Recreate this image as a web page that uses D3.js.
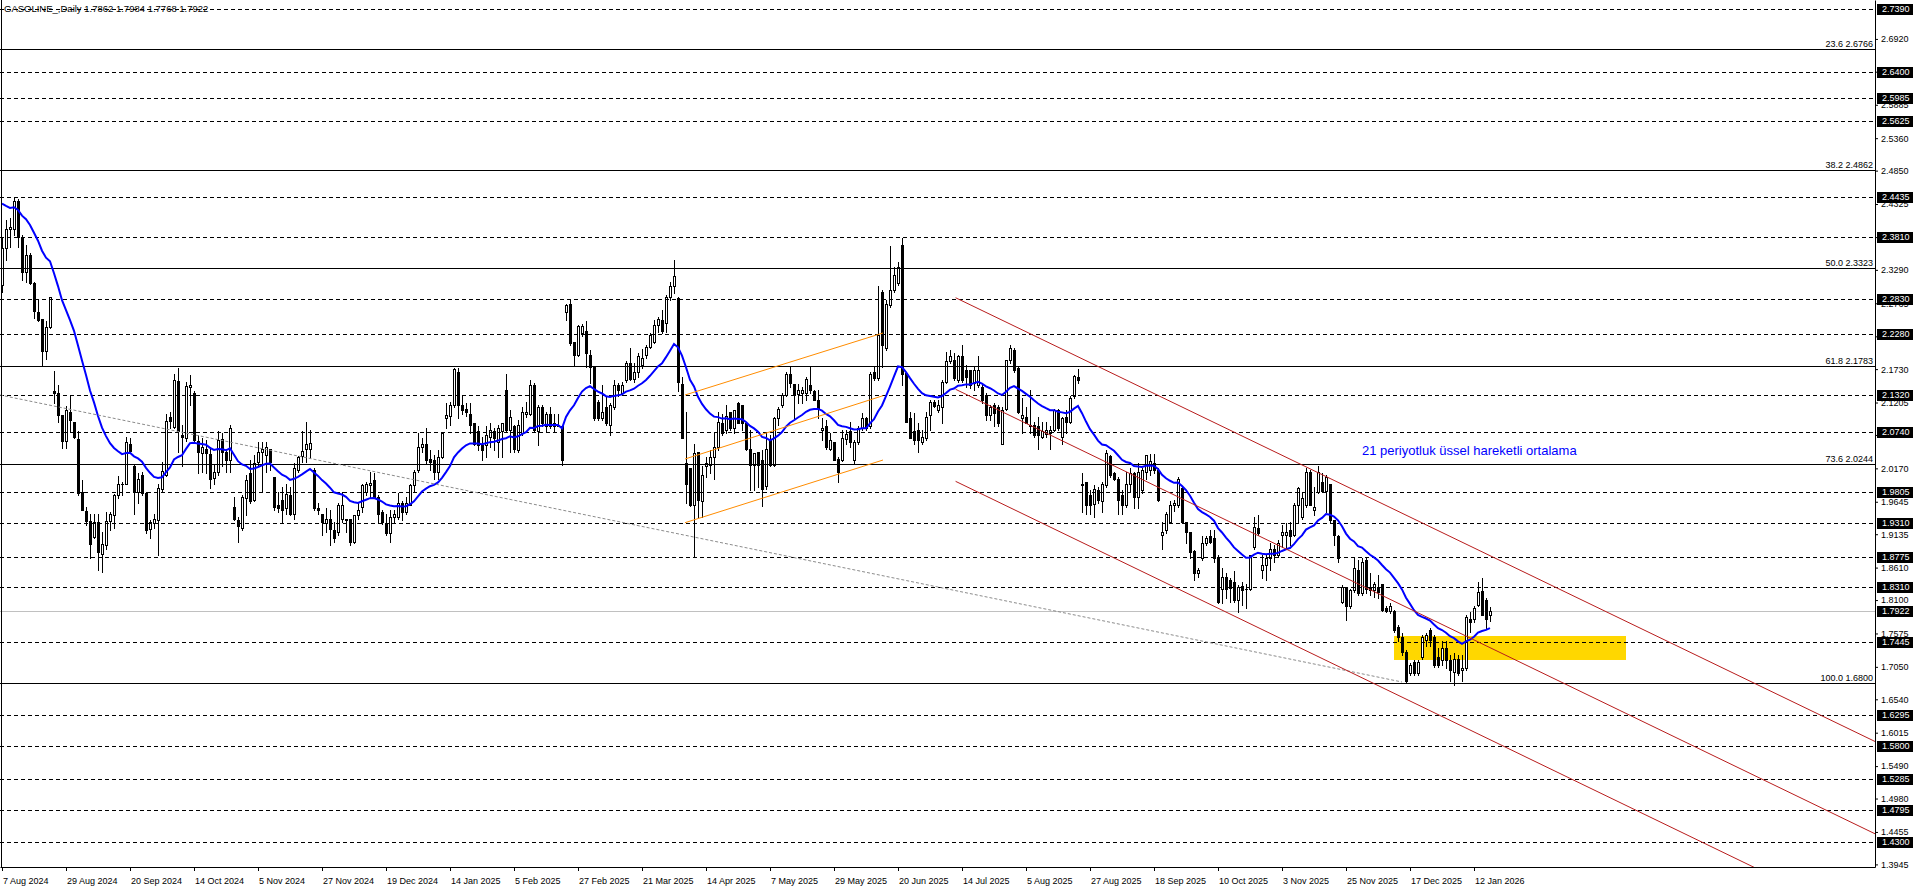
<!DOCTYPE html>
<html><head><meta charset="utf-8">
<script src="https://cdn.jsdelivr.net/npm/d3@7"></script>
<style>
html,body{margin:0;padding:0;background:#fff;overflow:hidden}
svg{display:block}
text{font-family:"Liberation Sans",Arial,sans-serif}
</style></head><body>
<svg id="c" width="1916" height="888"></svg>
<script>
const titleText = "GASOLINE_,Daily  1.7862 1.7984 1.7768 1.7922";

const open = [
2.305,2.363,2.393,2.394,2.437,2.381,2.325,2.352,2.309,2.263,
2.251,2.202,2.239,2.139,2.136,2.101,2.060,2.106,2.090,2.063,
1.980,1.950,1.934,1.909,1.932,1.882,1.896,1.935,1.943,1.975,
1.992,1.993,2.056,2.020,1.980,2.007,1.978,1.922,1.931,1.936,
1.985,2.007,2.097,2.082,2.154,2.070,2.064,2.145,2.136,2.060,
2.041,2.048,2.040,2.002,2.012,2.063,2.043,2.030,1.957,1.936,
1.923,1.970,2.010,1.968,2.027,2.043,2.038,2.047,2.003,1.959,
1.967,1.954,1.975,1.946,2.014,2.037,2.048,2.048,2.014,1.954,
1.945,1.931,1.937,1.920,1.917,1.938,1.937,1.937,1.902,1.944,
1.957,1.980,1.991,1.999,1.972,1.949,1.931,1.916,1.941,1.941,
1.962,1.949,1.959,1.991,2.014,2.051,2.056,2.031,2.030,2.012,
2.035,2.096,2.100,2.117,2.169,2.117,2.110,2.103,2.088,2.075,
2.054,2.054,2.067,2.075,2.059,2.075,2.140,2.077,2.083,2.046,
2.072,2.103,2.103,2.148,2.075,2.114,2.083,2.103,2.088,2.083,
2.083,2.263,2.275,2.216,2.195,2.230,2.233,2.195,2.177,2.122,
2.096,2.114,2.085,2.114,2.148,2.135,2.156,2.182,2.158,2.169,
2.179,2.195,2.208,2.216,2.242,2.250,2.246,2.287,2.303,2.285,
2.149,2.025,2.017,1.959,2.043,1.965,2.020,2.022,2.035,2.051,
2.088,2.077,2.106,2.080,2.120,2.117,2.088,2.048,2.022,2.042,
2.030,1.990,2.063,2.022,2.096,2.117,2.132,2.166,2.150,2.134,
2.135,2.135,2.148,2.139,2.124,2.078,2.083,2.048,2.059,2.031,
2.030,2.063,2.075,2.030,2.059,2.080,2.096,2.083,2.169,2.159,
2.295,2.206,2.274,2.297,2.308,2.368,2.167,2.096,2.075,2.077,
2.059,2.064,2.101,2.122,2.109,2.114,2.153,2.185,2.187,2.156,
2.194,2.172,2.172,2.151,2.148,2.145,2.132,2.101,2.117,2.114,
2.056,2.111,2.187,2.203,2.174,2.096,2.098,2.085,2.085,2.083,
2.067,2.071,2.073,2.077,2.109,2.067,2.098,2.090,2.130,2.161,
1.993,1.996,1.975,1.961,1.983,1.965,1.991,2.036,2.009,2.001,
1.975,1.959,1.993,2.009,1.972,1.983,2.012,2.014,2.025,2.014,
1.913,1.920,1.933,1.959,1.959,1.986,1.933,1.917,1.887,1.852,
1.876,1.899,1.910,1.907,1.878,1.828,1.847,1.842,1.839,1.810,
1.832,1.828,1.828,1.894,1.924,1.857,1.865,1.876,1.891,1.881,
1.912,1.913,1.920,1.913,1.959,1.941,1.959,2.012,1.952,1.980,
1.996,1.981,1.992,1.936,1.910,1.807,1.831,1.800,1.826,1.857,
1.821,1.873,1.831,1.826,1.831,1.835,1.797,1.793,1.793,1.768,
1.752,1.729,1.695,1.713,1.695,1.721,1.747,1.763,1.752,1.721,
1.716,1.734,1.716,1.697,1.718,1.700,1.703,1.780,1.781,1.802,
1.825,1.810,1.7862];

const high = [
2.379,2.407,2.410,2.443,2.441,2.384,2.368,2.356,2.310,2.283,
2.251,2.248,2.287,2.170,2.148,2.101,2.115,2.131,2.090,2.075,
1.999,1.957,1.946,1.946,1.946,1.917,1.949,1.949,1.976,2.005,
1.995,2.066,2.064,2.022,2.010,2.012,1.980,1.936,1.946,1.993,
2.027,2.103,2.106,2.166,2.175,2.085,2.153,2.164,2.138,2.069,
2.064,2.062,2.051,2.022,2.075,2.072,2.048,2.085,1.972,1.940,
1.975,2.007,2.030,2.038,2.059,2.059,2.059,2.048,2.004,1.980,
1.988,1.993,1.988,2.025,2.036,2.075,2.090,2.077,2.017,1.962,
1.946,1.954,1.952,1.933,1.962,1.980,1.938,1.938,1.944,1.962,
1.993,1.995,2.012,2.010,1.975,1.952,1.946,1.952,1.952,1.978,
1.965,1.972,1.993,2.014,2.073,2.064,2.080,2.046,2.038,2.046,
2.073,2.120,2.122,2.174,2.174,2.132,2.120,2.119,2.088,2.083,
2.067,2.083,2.088,2.080,2.085,2.088,2.166,2.109,2.085,2.093,
2.114,2.122,2.156,2.151,2.117,2.117,2.105,2.114,2.102,2.102,
2.085,2.276,2.283,2.216,2.242,2.244,2.248,2.203,2.177,2.124,
2.148,2.130,2.119,2.156,2.151,2.153,2.185,2.206,2.182,2.198,
2.204,2.211,2.229,2.250,2.255,2.266,2.289,2.310,2.345,2.287,
2.161,2.105,2.017,2.056,2.043,2.020,2.035,2.046,2.072,2.105,
2.103,2.117,2.106,2.108,2.122,2.117,2.089,2.077,2.041,2.042,
2.046,2.072,2.069,2.098,2.114,2.135,2.169,2.177,2.150,2.150,
2.145,2.161,2.178,2.140,2.140,2.096,2.093,2.072,2.059,2.035,
2.077,2.077,2.090,2.062,2.083,2.104,2.098,2.169,2.177,2.303,
2.297,2.282,2.366,2.334,2.342,2.379,2.169,2.106,2.104,2.088,
2.077,2.105,2.124,2.124,2.124,2.156,2.200,2.203,2.198,2.195,
2.211,2.179,2.172,2.176,2.193,2.148,2.135,2.117,2.119,2.117,
2.114,2.187,2.211,2.206,2.177,2.127,2.114,2.140,2.090,2.098,
2.090,2.090,2.083,2.111,2.110,2.098,2.109,2.130,2.164,2.173,
2.009,1.996,1.983,1.991,1.988,1.996,2.046,2.038,2.012,2.004,
1.983,2.012,2.017,2.012,2.025,2.017,2.038,2.040,2.040,2.017,
1.933,1.949,1.965,1.967,2.004,1.988,1.933,1.917,1.889,1.860,
1.910,1.910,1.920,1.920,1.881,1.860,1.852,1.844,1.855,1.834,
1.839,1.836,1.881,1.941,1.944,1.881,1.881,1.899,1.897,1.904,
1.928,1.931,1.933,1.962,1.988,1.978,2.017,2.014,1.988,2.020,
2.009,2.007,1.993,1.936,1.912,1.834,1.831,1.828,1.876,1.873,
1.876,1.876,1.852,1.839,1.849,1.836,1.800,1.805,1.794,1.771,
1.758,1.731,1.711,1.716,1.716,1.755,1.758,1.766,1.755,1.734,
1.745,1.745,1.724,1.726,1.724,1.724,1.787,1.792,1.800,1.839,
1.844,1.813,1.7984];

const low = [
2.294,2.344,2.365,2.384,2.365,2.313,2.310,2.307,2.253,2.248,
2.179,2.189,2.238,2.120,2.090,2.049,2.049,2.075,2.064,1.975,
1.952,1.928,1.876,1.908,1.857,1.854,1.891,1.920,1.923,1.970,
1.975,1.992,2.043,1.946,1.962,1.975,1.915,1.907,1.923,1.881,
1.980,2.005,2.080,2.080,2.043,2.020,2.060,2.117,2.059,2.009,
2.012,2.009,1.986,1.993,2.007,2.020,2.012,2.012,1.936,1.902,
1.920,1.944,1.962,1.965,2.022,1.980,2.012,2.014,1.952,1.949,
1.931,1.946,1.944,1.938,2.012,2.027,2.027,2.033,1.952,1.946,
1.912,1.917,1.896,1.902,1.912,1.933,1.917,1.896,1.899,1.938,
1.949,1.975,1.972,1.970,1.931,1.930,1.912,1.902,1.933,1.938,
1.936,1.945,1.959,1.980,2.012,2.043,2.025,2.014,2.001,2.001,
2.033,2.080,2.085,2.114,2.096,2.103,2.100,2.073,2.054,2.046,
2.030,2.035,2.051,2.046,2.035,2.035,2.075,2.043,2.042,2.042,
2.069,2.098,2.101,2.075,2.054,2.083,2.075,2.080,2.075,2.083,
2.022,2.250,2.211,2.179,2.193,2.225,2.177,2.151,2.093,2.093,
2.093,2.085,2.069,2.111,2.130,2.132,2.153,2.156,2.153,2.161,
2.174,2.190,2.206,2.214,2.232,2.229,2.232,2.282,2.292,2.138,
2.064,1.962,1.958,1.878,1.941,1.941,2.004,2.009,2.001,2.046,
2.069,2.072,2.077,2.073,2.088,2.077,2.046,1.983,1.983,1.988,
1.958,1.985,2.020,2.020,2.085,2.114,2.130,2.145,2.096,2.119,
2.119,2.124,2.135,2.124,2.096,2.062,2.048,2.046,2.030,1.995,
2.029,2.056,2.051,2.025,2.056,2.077,2.077,2.080,2.156,2.156,
2.177,2.203,2.271,2.295,2.305,2.148,2.090,2.064,2.056,2.043,
2.056,2.062,2.077,2.114,2.106,2.089,2.151,2.182,2.156,2.153,
2.153,2.145,2.143,2.140,2.145,2.119,2.093,2.093,2.083,2.083,
2.056,2.109,2.182,2.169,2.104,2.072,2.088,2.072,2.067,2.048,
2.064,2.067,2.047,2.075,2.077,2.056,2.072,2.088,2.127,2.151,
1.949,1.946,1.946,1.941,1.962,1.949,1.988,2.004,1.999,1.946,
1.946,1.957,1.980,1.954,1.954,1.978,2.001,2.007,2.009,1.965,
1.891,1.915,1.931,1.950,1.957,1.931,1.899,1.876,1.842,1.847,
1.873,1.897,1.899,1.870,1.805,1.805,1.813,1.807,1.807,1.792,
1.802,1.797,1.826,1.891,1.912,1.844,1.842,1.857,1.870,1.878,
1.894,1.891,1.897,1.910,1.933,1.938,1.957,1.959,1.944,1.978,
1.980,1.949,1.933,1.897,1.870,1.805,1.779,1.797,1.823,1.818,
1.818,1.821,1.818,1.815,1.813,1.793,1.792,1.790,1.760,1.745,
1.724,1.679,1.692,1.692,1.692,1.718,1.737,1.737,1.705,1.705,
1.708,1.703,1.682,1.676,1.692,1.682,1.700,1.760,1.776,1.800,
1.787,1.766,1.7768];

const close = [
2.363,2.394,2.396,2.437,2.381,2.325,2.352,2.309,2.265,2.250,
2.202,2.239,2.286,2.136,2.101,2.060,2.108,2.093,2.066,1.978,
1.952,1.934,1.898,1.933,1.885,1.898,1.935,1.945,1.975,1.992,
1.993,2.059,2.045,1.980,2.000,1.978,1.920,1.932,1.938,1.986,
2.013,2.092,2.092,2.156,2.075,2.066,2.146,2.148,2.062,2.043,
2.051,2.041,2.001,2.012,2.062,2.043,2.030,2.080,1.937,1.927,
1.972,1.999,1.965,2.025,2.043,2.048,2.050,2.027,1.957,1.954,
1.952,1.976,1.946,2.017,2.035,2.045,2.056,2.057,1.955,1.952,
1.933,1.938,1.922,1.907,1.959,1.959,1.936,1.902,1.944,1.952,
1.991,1.992,1.994,1.972,1.946,1.933,1.915,1.941,1.946,1.962,
1.949,1.962,1.991,2.012,2.051,2.056,2.030,2.027,2.012,2.035,
2.073,2.101,2.116,2.173,2.117,2.109,2.106,2.085,2.056,2.054,
2.046,2.069,2.077,2.064,2.080,2.088,2.077,2.098,2.048,2.085,
2.105,2.105,2.148,2.077,2.114,2.088,2.102,2.083,2.083,2.085,
2.030,2.274,2.214,2.195,2.241,2.240,2.198,2.177,2.096,2.096,
2.106,2.088,2.117,2.148,2.140,2.148,2.182,2.158,2.169,2.194,
2.190,2.208,2.227,2.242,2.252,2.233,2.287,2.304,2.319,2.153,
2.064,1.993,1.959,2.041,1.967,2.007,2.025,2.035,2.051,2.090,
2.072,2.099,2.080,2.108,2.088,2.088,2.048,2.022,2.041,2.022,
1.985,2.048,2.022,2.096,2.111,2.132,2.166,2.151,2.132,2.140,
2.140,2.157,2.140,2.124,2.110,2.081,2.051,2.062,2.030,2.012,
2.064,2.071,2.059,2.059,2.080,2.096,2.080,2.166,2.159,2.227,
2.211,2.276,2.297,2.321,2.334,2.165,2.090,2.064,2.062,2.062,
2.067,2.098,2.122,2.115,2.117,2.153,2.185,2.193,2.159,2.193,
2.156,2.161,2.148,2.172,2.172,2.124,2.101,2.114,2.104,2.088,
2.109,2.187,2.206,2.172,2.106,2.101,2.088,2.083,2.069,2.069,
2.075,2.078,2.077,2.109,2.080,2.096,2.090,2.127,2.162,2.156,
1.991,1.959,1.959,1.984,1.967,1.993,2.041,2.007,2.001,1.967,
1.959,1.993,2.009,1.972,2.012,2.014,2.038,2.028,2.014,1.967,
1.917,1.945,1.959,1.962,2.001,1.933,1.917,1.886,1.852,1.857,
1.899,1.907,1.902,1.876,1.807,1.847,1.828,1.829,1.810,1.831,
1.826,1.827,1.881,1.925,1.915,1.865,1.876,1.891,1.881,1.899,
1.917,1.917,1.910,1.959,1.986,1.970,2.012,1.960,1.957,2.012,
1.981,2.004,1.936,1.912,1.876,1.831,1.800,1.826,1.860,1.821,
1.870,1.828,1.826,1.836,1.823,1.794,1.793,1.800,1.763,1.752,
1.729,1.682,1.708,1.695,1.713,1.752,1.755,1.747,1.708,1.708,
1.734,1.716,1.700,1.718,1.695,1.703,1.784,1.776,1.797,1.823,
1.787,1.781,1.7922];

const emaPeriod = 21;
const emaSeed = 2.44;

const dateTickBars = [0,16,32,48,64,80,96,112,128,144,160,176,192,208,224,240,256,272,288,304,320,336,352,368];
const dateTickLabels = ["7 Aug 2024","29 Aug 2024","20 Sep 2024","14 Oct 2024","5 Nov 2024","27 Nov 2024","19 Dec 2024","14 Jan 2025","5 Feb 2025","27 Feb 2025","21 Mar 2025","14 Apr 2025","7 May 2025","29 May 2025","20 Jun 2025","14 Jul 2025","5 Aug 2025","27 Aug 2025","18 Sep 2025","10 Oct 2025","3 Nov 2025","25 Nov 2025","17 Dec 2025","12 Jan 2026"];

const priceTicks = [2.6920,2.6405,2.5885,2.5360,2.4850,2.4325,2.3805,2.3290,2.2765,2.2245,2.1730,2.1205,2.0695,2.0170,1.9645,1.9135,1.8610,1.8100,1.7575,1.7050,1.6540,1.6015,1.5490,1.4980,1.4455,1.3945];
const levelPrices = [2.7390,2.6400,2.5985,2.5625,2.4435,2.3810,2.2830,2.2280,2.1320,2.0740,1.9805,1.9310,1.8775,1.8310,1.7445,1.6295,1.5800,1.5285,1.4795,1.4300];
const fibRatios = ["23.6","38.2","50.0","61.8","73.6","100.0"];
const fibPrices = [2.6766,2.4862,2.3323,2.1783,2.0244,1.6800];
const currentPrice = 1.7922;

// drawn objects: [startBar, startPrice, endBar, endPrice]
const redChannel = [[238.4,2.2852,468.25,1.5877],[238.4,2.1413,468.25,1.4426],[238.4,1.9966,468.25,1.2980]];
const orangeChannel = [[170.75,2.1323,220.25,2.2298],[170.75,2.0317,220.25,2.1312],[170.75,1.9316,220.25,2.0301]];
const grayTrend = [[-0.5,2.1323,350,1.6812]];
const zoneBars = [348,406];
const zonePrices = [1.7535,1.7158];
const noteText = "21 periyotluk üssel hareketli ortalama";
const noteBar = 340, notePrice = 2.0443;

const PW = 1875, PH = 867;
const x = d3.scaleLinear().domain([-0.5, 468.25]).range([0, PW]);
const y = d3.scaleLinear().domain([1.3904, 2.7532]).range([PH, 0]);

const svg = d3.select("#c");
svg.append("defs").append("clipPath").attr("id","plot")
  .append("rect").attr("x",0).attr("y",0).attr("width",PW).attr("height",PH);
const g = svg.append("g").attr("clip-path","url(#plot)");

// yellow zone (background)
g.append("rect")
  .attr("x", x(zoneBars[0])).attr("width", x(zoneBars[1]) - x(zoneBars[0]))
  .attr("y", y(zonePrices[0])).attr("height", y(zonePrices[1]) - y(zonePrices[0]))
  .attr("fill", "#FFD700");

// current price line
g.append("line").attr("x1",0).attr("x2",PW)
  .attr("y1", Math.round(y(currentPrice))+0.5).attr("y2", Math.round(y(currentPrice))+0.5)
  .attr("stroke","#C0C0C0").attr("shape-rendering","crispEdges");

// candles
const idx = d3.range(close.length);
const cg = g.append("g").attr("shape-rendering","crispEdges");
cg.selectAll("line.w").data(idx).join("line").attr("class","w")
  .attr("x1", i => Math.round(x(i))+0.5).attr("x2", i => Math.round(x(i))+0.5)
  .attr("y1", i => Math.round(y(high[i]))).attr("y2", i => Math.round(y(low[i]))+1)
  .attr("stroke","#000");
cg.selectAll("rect.b").data(idx).join("rect").attr("class","b")
  .each(function(i){
    const cx = Math.round(x(i));
    const yt = Math.round(y(Math.max(open[i],close[i])));
    const yb = Math.round(y(Math.min(open[i],close[i])));
    const s = d3.select(this);
    if (close[i] >= open[i] && yb - yt >= 1) {
      s.attr("x", cx-0.5).attr("y", yt+0.5).attr("width", 2).attr("height", yb-yt)
       .attr("fill","#fff").attr("stroke","#000");
    } else {
      s.attr("x", cx-1).attr("y", yt).attr("width", 3).attr("height", Math.max(yb-yt+1,1))
       .attr("fill","#000");
    }
  });

// level lines (dashed)
g.append("g").attr("shape-rendering","crispEdges").selectAll("line").data(levelPrices).join("line")
  .attr("x1",0).attr("x2",PW)
  .attr("y1", d => Math.round(y(d))+0.5).attr("y2", d => Math.round(y(d))+0.5)
  .attr("stroke","#000").attr("stroke-dasharray","4,3");

// fibonacci lines
g.append("g").attr("shape-rendering","crispEdges").selectAll("line").data(fibPrices).join("line")
  .attr("x1",0).attr("x2",PW)
  .attr("y1", d => Math.round(y(d))+0.5).attr("y2", d => Math.round(y(d))+0.5)
  .attr("stroke","#000");
svg.append("g").selectAll("text").data(fibPrices).join("text")
  .attr("x", PW-2).attr("y", d => Math.round(y(d))-2)
  .attr("text-anchor","end").attr("font-size","9px").attr("fill","#000")
  .text((d,i) => fibRatios[i] + " " + d.toFixed(4));

// EMA 21
const k = 2/(emaPeriod+1);
const ema = [];
close.reduce((prev, c) => { const v = prev + k*(c-prev); ema.push(v); return v; }, emaSeed);
g.append("path").datum(ema)
  .attr("d", d3.line().x((d,i)=>x(i)).y(d=>y(d)))
  .attr("fill","none").attr("stroke","#0000FF").attr("stroke-width",2);

// trend lines
function drawLines(arr, color, dash){
  g.append("g").selectAll("line").data(arr).join("line")
    .attr("x1", d => x(d[0])).attr("y1", d => y(d[1]))
    .attr("x2", d => x(d[2])).attr("y2", d => y(d[3]))
    .attr("stroke", color).attr("stroke-width",1)
    .attr("stroke-dasharray", dash || null);
}
drawLines(grayTrend, "#8c8c8c", "3,2");
drawLines(orangeChannel, "#FF8C00");
drawLines(redChannel, "#B81C1C");

// note
svg.append("text").attr("x", x(noteBar)).attr("y", y(notePrice)+4.5)
  .attr("font-size","13px").attr("fill","#0000FF").text(noteText);

// title
svg.append("text").attr("x",4).attr("y",12).attr("font-size","9.5px").attr("fill","#000").text(titleText);

// left border
svg.append("line").attr("x1",1.5).attr("x2",1.5).attr("y1",0).attr("y2",PH).attr("stroke","#000");

// right axis
const yAxis = d3.axisRight(y).tickValues(priceTicks).tickFormat(d => d.toFixed(4))
  .tickSize(3).tickSizeOuter(0).tickPadding(3);
const ya = svg.append("g").attr("transform",`translate(${PW},0)`).call(yAxis);
ya.selectAll("text").attr("font-size","9px").attr("font-family","Liberation Sans, Arial, sans-serif").attr("fill","#000");
ya.selectAll("line,path").attr("stroke","#000");

// marked price labels
const marked = levelPrices.concat([currentPrice]);
const mg = svg.append("g").selectAll("g").data(marked).join("g")
  .attr("transform", d => `translate(${PW+2},${Math.round(y(d))})`);
mg.append("rect").attr("x",0).attr("y",-5).attr("width",36).attr("height",11).attr("fill","#000");
mg.append("text").attr("x",5).attr("y",0).attr("dy","0.35em").attr("font-size","9px").attr("fill","#fff")
  .text(d => d.toFixed(4));

// bottom axis
const xAxis = d3.axisBottom(x).tickValues(dateTickBars).tickFormat((d,i) => dateTickLabels[i])
  .tickSize(4).tickSizeOuter(0).tickPadding(7);
const xa = svg.append("g").attr("transform",`translate(0,${PH})`).call(xAxis);
xa.selectAll("text").attr("text-anchor","start").attr("dx","0.5").attr("font-size","9px")
  .attr("font-family","Liberation Sans, Arial, sans-serif").attr("fill","#000");
xa.selectAll("line,path").attr("stroke","#000");
</script>
</body></html>
